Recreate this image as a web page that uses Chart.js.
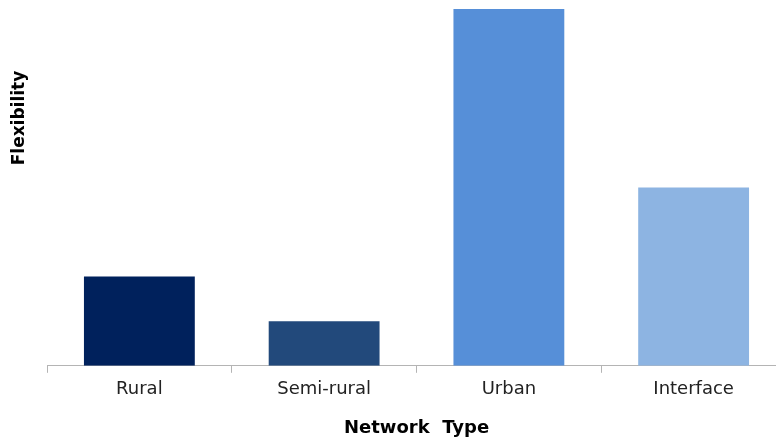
<!DOCTYPE html>
<html>
<head>
<meta charset="utf-8">
<script src="https://cdn.jsdelivr.net/npm/chart.js@4"></script>
<style>
  html, body { margin: 0; padding: 0; background: #fff; overflow: hidden; }
  #wrap { width: 800px; height: 439px; }
</style>
</head>
<body>
<div id="wrap"><canvas id="MyChart"></canvas></div>
<script>
let categories = ['Rural', 'Semi-rural', 'Urban', 'Interface']
let flexibility = [1.0, 0.5, 4.0, 2.0]
let barColors = ['#00215c', '#22497b', '#568fd8', '#8db4e2']

// y title sits above the plot centre in the original, so draw it by hand
let yTitle = {
    id: 'yTitle',
    afterDraw(chart) {
        let c = chart.ctx
        c.save()
        c.translate(20, 118)
        c.rotate(-Math.PI / 2)
        c.font = 'bold 17px "DejaVu Sans", Verdana, sans-serif'
        c.fillStyle = '#000'
        c.textAlign = 'center'
        c.textBaseline = 'middle'
        c.fillText('Flexibility', 0, 0)
        c.restore()
    }
}

let ctx = document.getElementById('MyChart').getContext('2d')

let flexChart = new Chart(ctx, {
    type: 'bar',
    data: {
        labels: categories,
        datasets: [{
            label: 'Flexibility',
            data: flexibility,
            backgroundColor: barColors,
            borderWidth: 0,
            barPercentage: 0.6,
            categoryPercentage: 1.0
        }]
    },
    options: {
        responsive: true,
        maintainAspectRatio: false,
        animation: false,
        layout: {
            padding: { left: 47, top: 9, right: 14, bottom: 0 }
        },
        plugins: {
            legend: { display: false },
            tooltip: { enabled: false }
        },
        scales: {
            x: {
                grid: {
                    offset: true,
                    drawOnChartArea: false,
                    drawTicks: true,
                    tickLength: 7,
                    color: '#b4b4b4'
                },
                border: { color: '#b4b4b4', width: 1 },
                ticks: {
                    color: '#222',
                    padding: 6,
                    font: { family: '"DejaVu Sans", Verdana, sans-serif', size: 18 }
                },
                title: {
                    display: true,
                    text: 'Network  Type',
                    color: '#000',
                    padding: { top: 11, bottom: 0 },
                    font: { family: '"DejaVu Sans", Verdana, sans-serif', size: 18, weight: 'bold' }
                }
            },
            y: {
                display: false,
                min: 0,
                max: 4
            }
        }
    },
    plugins: [yTitle]
})
</script>
</body>
</html>
